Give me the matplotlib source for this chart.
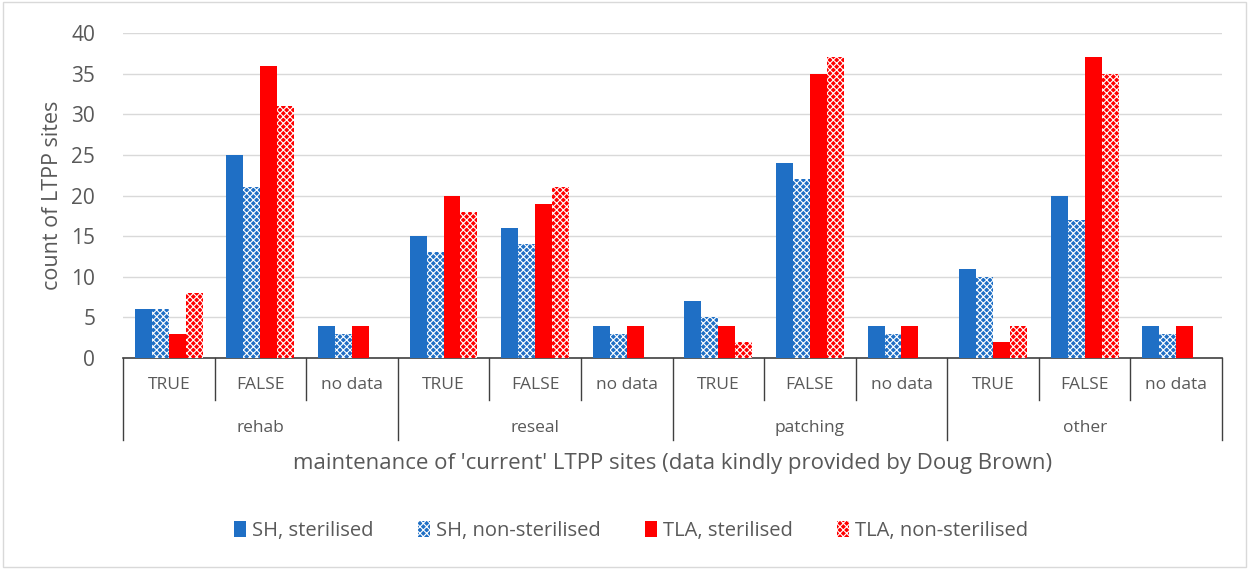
import matplotlib.pyplot as plt
import numpy as np
from matplotlib.transforms import blended_transform_factory
from matplotlib.patches import Rectangle

plt.rcParams['font.family'] = ['Open Sans', 'DejaVu Sans']
plt.rcParams['hatch.linewidth'] = 0.8

groups = ['rehab', 'reseal', 'patching', 'other']
subcats = ['TRUE', 'FALSE', 'no data']
series = ['SH, sterilised', 'SH, non-sterilised', 'TLA, sterilised', 'TLA, non-sterilised']

sh_ster = [6, 25, 4, 15, 16, 4, 7, 24, 4, 11, 20, 4]
sh_nonster = [6, 21, 3, 13, 14, 3, 5, 22, 3, 10, 17, 3]
tla_ster = [3, 36, 4, 20, 19, 4, 4, 35, 4, 2, 37, 4]
tla_nonster = [8, 31, 0, 18, 21, 0, 2, 37, 0, 4, 35, 0]

blue = '#1f6fc5'
red = '#ff0000'
txt = '#595959'

fig = plt.figure(figsize=(12.5, 5.69), dpi=100)
ax = fig.add_axes([0.0984, 0.3708, 0.8792, 0.5712])

n = len(sh_ster)
x = np.arange(n)
w = 0.185
vals = [sh_ster, sh_nonster, tla_ster, tla_nonster]
cols = [blue, blue, red, red]
hatches = [None, 'xxxxx', None, 'xxxxx']
for i, (v, c, h, lab) in enumerate(zip(vals, cols, hatches, series)):
    off = (i - 1.5) * w
    if h is None:
        ax.bar(x + off, v, w, color=c, label=lab, linewidth=0, zorder=3)
    else:
        ax.bar(x + off, v, w, facecolor=c, edgecolor='white', hatch=h,
               linewidth=0, label=lab, zorder=3)

ax.set_xlim(-0.5, n - 0.5)
ax.set_ylim(0, 40)
ax.set_yticks(range(0, 41, 5))
ax.yaxis.grid(True, color='#d9d9d9', linewidth=1)
ax.set_axisbelow(True)
for s in ['top', 'right', 'left']:
    ax.spines[s].set_visible(False)
ax.spines['bottom'].set_color('#404040')
ax.spines['bottom'].set_linewidth(1.2)
ax.tick_params(axis='y', length=0, labelsize=15, labelcolor=txt, pad=20)
ax.set_xticks([])
ax.set_ylabel('count of LTPP sites', fontsize=15.5, color=txt, labelpad=6)

# multi-level category axis
trans = blended_transform_factory(ax.transData, ax.transAxes)
for i in range(n):
    ax.text(x[i], -0.082, subcats[i % 3], transform=trans, ha='center',
            va='center', fontsize=12.5, color=txt)
for b in range(n + 1):
    bottom = -0.252 if b % 3 == 0 else -0.129
    ax.plot([b - 0.5, b - 0.5], [0, bottom], transform=trans,
            color='#404040', linewidth=1, clip_on=False)
for g, name in enumerate(groups):
    ax.text(g * 3 + 1, -0.215, name, transform=trans, ha='center',
            va='center', fontsize=12.5, color=txt)
ax.text(0.5, -0.325, "maintenance of 'current' LTPP sites (data kindly provided by Doug Brown)",
        transform=ax.transAxes, ha='center', va='center', fontsize=16, color=txt)

leg = fig.legend(loc='center', bbox_to_anchor=(0.505, 0.067), ncol=4, frameon=False,
                 fontsize=14.5, handlelength=0.6, handleheight=0.9,
                 handletextpad=0.3, columnspacing=2.2)
for t in leg.get_texts():
    t.set_color(txt)

fig.patches.append(Rectangle((0.002, 0.003), 0.995, 0.993, transform=fig.transFigure,
                             fill=False, edgecolor='#d9d9d9', linewidth=1))

fig.savefig('out.png', dpi=100)
